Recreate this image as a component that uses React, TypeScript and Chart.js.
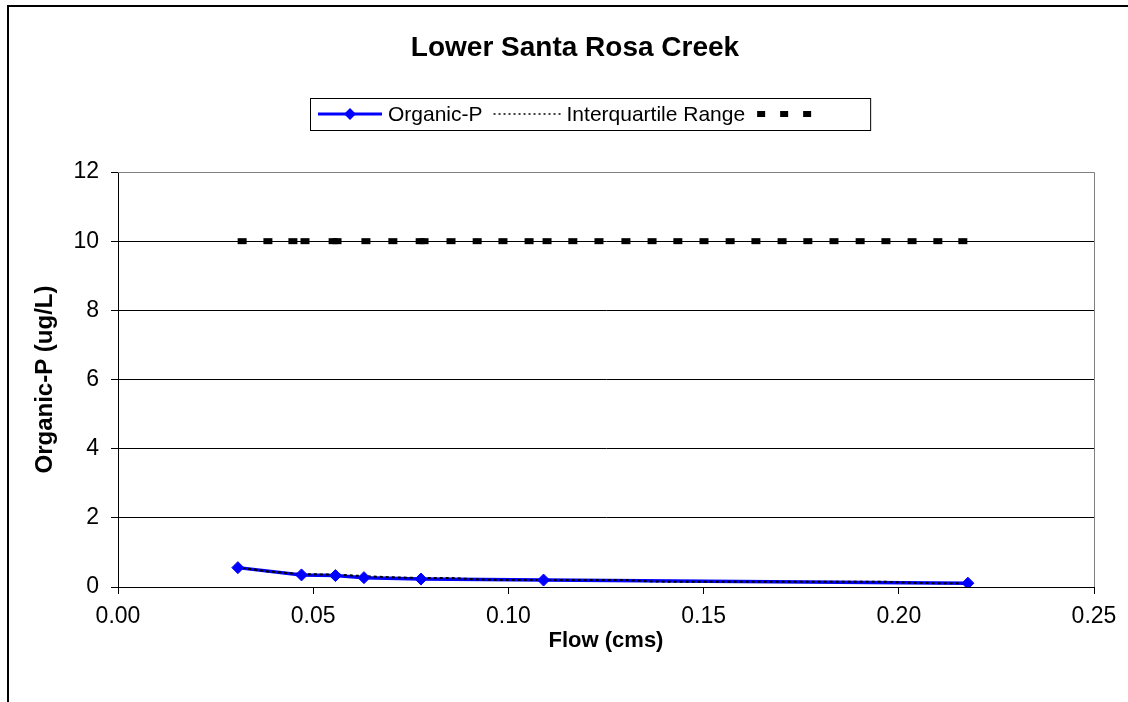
import React, { useEffect, useRef } from "react";
import { Chart, registerables } from "chart.js";

Chart.register(...registerables);

const chartTitle = "Lower Santa Rosa Creek";
const xAxisTitle = "Flow (cms)";
const yAxisTitle = "Organic-P (ug/L)";
const legendLabels = ["Organic-P", "Interquartile Range", ""];

// Organic-P observations (flow in cms, value in ug/L)
const organicFlow = [0.0307, 0.047, 0.0557, 0.063, 0.0776, 0.109, 0.2177];
const organicP = [0.56, 0.35, 0.33, 0.27, 0.23, 0.2, 0.11];

// flow grid used by the interquartile-range and upper series
const gridFlow = [
  0.0318, 0.0384, 0.0448, 0.0479, 0.0551, 0.0561, 0.0635, 0.0704, 0.0774, 0.0784,
  0.0853, 0.092, 0.0986, 0.1053, 0.1099, 0.1165, 0.1232, 0.1301, 0.1368, 0.1434,
  0.1501, 0.1568, 0.1634, 0.1701, 0.1767, 0.1834, 0.1901, 0.1967, 0.2034, 0.21, 0.2164,
];
const iqrValues = [
  0.55, 0.45, 0.39, 0.37, 0.36, 0.36, 0.31, 0.28, 0.26, 0.26,
  0.26, 0.22, 0.2, 0.2, 0.2, 0.2, 0.2, 0.2, 0.16, 0.15,
  0.15, 0.15, 0.15, 0.15, 0.15, 0.15, 0.15, 0.15, 0.12, 0.11, 0.11,
];
const upperValues = [
  10, 10, 10, 10, 10, 10, 10, 10, 10, 10,
  10, 10, 10, 10, 10, 10, 10, 10, 10, 10,
  10, 10, 10, 10, 10, 10, 10, 10, 10, 10, 10,
];

const xMin = 0, xMax = 0.25, xStep = 0.05;
const yMin = 0, yMax = 12, yStep = 2;

const FONT = "'Liberation Sans', Arial, sans-serif";
const BLUE = "#0000FF";

function pts(xs: number[], ys: number[]) {
  return xs.map((x, i) => ({ x, y: ys[i] }));
}

const decorPlugin = {
  id: "decor",
  afterDraw(chart: any) {
    const ctx = chart.ctx as CanvasRenderingContext2D;
    const area = chart.chartArea;
    ctx.save();
    // plot border (top and right) in gray
    ctx.strokeStyle = "#808080";
    ctx.lineWidth = 1;
    ctx.beginPath();
    ctx.moveTo(area.left, Math.round(area.top) + 0.5);
    ctx.lineTo(Math.round(area.right) + 0.5, Math.round(area.top) + 0.5);
    ctx.lineTo(Math.round(area.right) + 0.5, area.bottom);
    ctx.stroke();

    // outer chart frame (cropped)
    ctx.strokeStyle = "#000";
    ctx.lineWidth = 2;
    ctx.strokeRect(8, 6, 3000, 3000);

    // title
    ctx.fillStyle = "#000";
    ctx.font = `bold 28px ${FONT}`;
    ctx.textAlign = "center";
    ctx.textBaseline = "middle";
    ctx.fillText(chartTitle, 575, 48);

    // legend
    const lx = 310, ly = 98, lh = 32;
    const cy = ly + lh / 2;
    ctx.font = `21px ${FONT}`;
    ctx.textAlign = "left";
    let x = lx + 8;
    // Organic-P sample
    ctx.strokeStyle = BLUE;
    ctx.lineWidth = 3;
    ctx.beginPath();
    ctx.moveTo(x, cy);
    ctx.lineTo(x + 64, cy);
    ctx.stroke();
    ctx.fillStyle = BLUE;
    ctx.beginPath();
    ctx.moveTo(x + 32, cy - 6);
    ctx.lineTo(x + 38, cy);
    ctx.lineTo(x + 32, cy + 6);
    ctx.lineTo(x + 26, cy);
    ctx.closePath();
    ctx.fill();
    x += 70;
    ctx.fillStyle = "#000";
    ctx.fillText(legendLabels[0], x, cy + 1);
    x += ctx.measureText(legendLabels[0]).width + 11;
    // IQR sample
    ctx.strokeStyle = "#000";
    ctx.lineWidth = 1.5;
    ctx.setLineDash([2, 3]);
    ctx.beginPath();
    ctx.moveTo(x, cy);
    ctx.lineTo(x + 68, cy);
    ctx.stroke();
    ctx.setLineDash([]);
    x += 73;
    ctx.fillText(legendLabels[1], x, cy + 1);
    x += ctx.measureText(legendLabels[1]).width + 12;
    // upper series sample (dash markers)
    for (let i = 0; i < 3; i++) {
      ctx.fillRect(x + i * 23, cy - 3, 8, 6);
    }
    x += 46 + 8 + 59;
    ctx.lineWidth = 1;
    ctx.strokeRect(lx + 0.5, ly + 0.5, x - lx, lh);
    ctx.restore();
  },
};

export default function App() {
  const ref = useRef<HTMLCanvasElement | null>(null);
  useEffect(() => {
    document.body.style.margin = "0";
    const canvas = ref.current!;
    const chart = new Chart(canvas, {
      type: "scatter",
      data: {
        datasets: [
          {
            label: "Organic-P markers",
            data: pts(organicFlow, organicP),
            showLine: false,
            pointStyle: "rectRot",
            pointRadius: 6,
            pointBackgroundColor: BLUE,
            pointBorderColor: BLUE,
            pointBorderWidth: 1,
            order: 1,
          },
          {
            label: legendLabels[1],
            data: pts(gridFlow, iqrValues),
            showLine: true,
            borderColor: "#000",
            borderWidth: 2,
            borderDash: [3, 3],
            pointRadius: 0,
            order: 2,
          },
          {
            label: legendLabels[0],
            data: pts(organicFlow, organicP),
            showLine: true,
            borderColor: BLUE,
            borderWidth: 3.5,
            pointRadius: 0,
            order: 3,
          },
          {
            label: "Upper",
            data: pts(gridFlow, upperValues),
            showLine: false,
            pointStyle: "line",
            pointRadius: 4.5,
            pointBorderWidth: 6,
            pointBorderColor: "#000",
            pointBackgroundColor: "#000",
            order: 0,
          },
        ],
      },
      options: {
        responsive: false,
        animation: false,
        devicePixelRatio: 1,
        layout: { padding: { left: 0, right: 34, top: 172, bottom: 0 } },
        plugins: {
          legend: { display: false },
          title: { display: false },
          tooltip: { enabled: false },
        },
        scales: {
          x: {
            type: "linear",
            min: xMin,
            max: xMax,
            afterFit: (s: any) => { s.height = 115; },
            afterBuildTicks: (s: any) => {
              s.ticks = [0, 1, 2, 3, 4, 5].map((i) => ({ value: +(xMin + i * xStep).toFixed(2) }));
            },
            grid: { drawOnChartArea: false, drawTicks: true, tickLength: 7, color: "#000", tickColor: "#000" },
            border: { display: true, color: "#000", width: 1 },
            ticks: {
              color: "#000",
              font: { family: FONT, size: 23 },
              padding: 9,
              maxRotation: 0,
              autoSkip: false,
              callback: (v: any) => Number(v).toFixed(2),
            },
            title: {
              display: true,
              text: xAxisTitle,
              color: "#000",
              font: { family: FONT, size: 22, weight: "bold" },
              padding: { top: 0, bottom: 48 },
            },
          },
          y: {
            type: "linear",
            min: yMin,
            max: yMax,
            afterFit: (s: any) => { s.width = 118; },
            ticks: {
              stepSize: yStep,
              color: "#000",
              font: { family: FONT, size: 23 },
              padding: 12,
            },
            grid: {
              drawTicks: true,
              tickLength: 7,
              color: (c: any) => (c.tick && c.tick.value === yMax ? "#808080" : "#000"),
              tickColor: "#000",
            },
            border: { display: true, color: "#000", width: 1 },
            title: {
              display: true,
              text: yAxisTitle,
              color: "#000",
              font: { family: FONT, size: 24, weight: "bold" },
              padding: { top: 31, bottom: 0 },
            },
          },
        },
      },
      plugins: [decorPlugin],
    } as any);
    return () => chart.destroy();
  }, []);
  return (
    <div style={{ width: 1128, height: 702, position: "relative" }}>
      <canvas ref={ref} width={1128} height={702} style={{ display: "block", width: 1128, height: 702 }} />
    </div>
  );
}
